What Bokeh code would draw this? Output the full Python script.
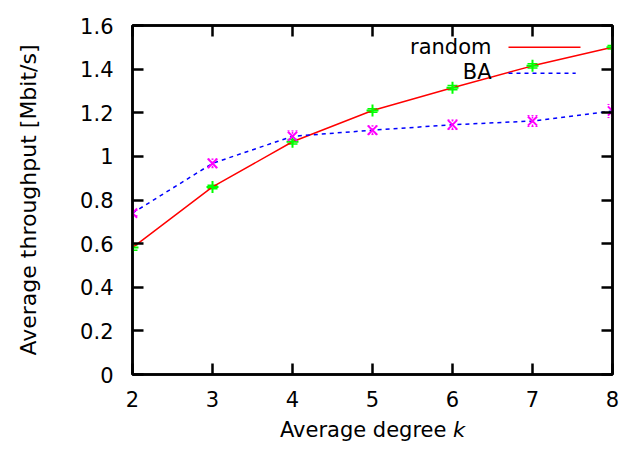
from bokeh.plotting import figure
from bokeh.models import Range1d, FixedTicker, LinearAxis, Label, Whisker, ColumnDataSource
from bokeh.embed import file_html
from bokeh.resources import INLINE

degree = [2, 3, 4, 5, 6, 7, 8]
random_tp = [0.582, 0.860, 1.067, 1.210, 1.315, 1.415, 1.500]
random_err = [0.012, 0.008, 0.010, 0.008, 0.010, 0.010, 0.008]
ba_tp = [0.740, 0.968, 1.092, 1.120, 1.145, 1.162, 1.208]
ba_err = [0.012, 0.020, 0.025, 0.020, 0.022, 0.025, 0.030]
y_ticks = [0, 0.2, 0.4, 0.6, 0.8, 1.0, 1.2, 1.4, 1.6]
y_tick_labels = ["0", "0.2", "0.4", "0.6", "0.8", "1", "1.2", "1.4", "1.6"]
x_ticks = [2, 3, 4, 5, 6, 7, 8]

FONT = "DejaVu Sans"
FS = "21px"

W, H = 624, 444
L, R, T, B = 132, 12, 25, 69
p = figure(width=W, height=H, output_backend="svg", toolbar_location=None,
           x_range=Range1d(2, 8), y_range=Range1d(0, 1.6),
           min_border_left=L, min_border_right=R, min_border_top=T, min_border_bottom=B)
FH = H - T - B
p.grid.visible = False
p.outline_line_color = "black"
p.outline_line_width = 2.5
p.background_fill_color = "white"
p.border_fill_color = "white"

for ax in (p.xaxis[0], p.yaxis[0]):
    ax.major_tick_in = 11
    ax.major_tick_out = 0
    ax.minor_tick_line_color = None
    ax.axis_line_width = 2.5
    ax.major_tick_line_width = 2.5
    ax.major_label_text_font = FONT
    ax.major_label_text_font_size = FS
    ax.major_label_text_color = "black"
    ax.axis_label_text_font = FONT
    ax.axis_label_text_font_size = FS
    ax.axis_label_text_font_style = "normal"
    ax.axis_label_text_color = "black"

p.yaxis.axis_label_text_font_size = "22px"
p.xaxis.ticker = FixedTicker(ticks=x_ticks)
p.yaxis.ticker = FixedTicker(ticks=y_ticks)
p.yaxis.major_label_overrides = {t: l for t, l in zip(y_ticks, y_tick_labels)}
p.xaxis.axis_label = "Average degree 𝘬"
p.yaxis.axis_label = "Average throughput [Mbit/s]"
p.xaxis.major_label_standoff = 16
p.yaxis.major_label_standoff = 19
p.xaxis.axis_label_standoff = 8
p.yaxis.axis_label_standoff = 36

for loc, tk in (("right", y_ticks), ("above", x_ticks)):
    ax = LinearAxis(ticker=FixedTicker(ticks=tk), major_label_text_font_size="0px",
                    major_tick_in=11, major_tick_out=0, minor_tick_line_color=None,
                    axis_line_width=2.5, major_tick_line_width=2.5, major_label_standoff=0)
    ax.major_label_text_color = None
    p.add_layout(ax, loc)

src_r = ColumnDataSource(dict(x=degree, y=random_tp,
                              lo=[v - e for v, e in zip(random_tp, random_err)],
                              hi=[v + e for v, e in zip(random_tp, random_err)]))
src_b = ColumnDataSource(dict(x=degree, y=ba_tp,
                              lo=[v - e for v, e in zip(ba_tp, ba_err)],
                              hi=[v + e for v, e in zip(ba_tp, ba_err)]))

p.line("x", "y", source=src_r, line_color="#ff0000", line_width=1.5)
p.line("x", "y", source=src_b, line_color="#0000ff", line_width=1.5, line_dash="4 4")

wr = Whisker(source=src_r, base="x", lower="lo", upper="hi", line_color="#00ff00", line_width=1.5)
wr.upper_head.size = 10
wr.lower_head.size = 10
wr.upper_head.line_color = "#00ff00"
wr.lower_head.line_color = "#00ff00"
wr.upper_head.line_width = 1.5
wr.lower_head.line_width = 1.5
p.add_layout(wr)
wb = Whisker(source=src_b, base="x", lower="lo", upper="hi", line_color="#ff00ff", line_width=1.5,
             line_dash="2 2")
wb.upper_head.size = 10
wb.lower_head.size = 10
wb.upper_head.line_color = "#ff00ff"
wb.lower_head.line_color = "#ff00ff"
wb.upper_head.line_dash = "2 2"
wb.lower_head.line_dash = "2 2"
p.add_layout(wb)

p.scatter("x", "y", source=src_r, marker="cross", size=12, line_color="#00ff00", line_width=2)
p.scatter("x", "y", source=src_b, marker="x", size=13, line_color="#ff00ff", line_width=2)

# legend (text on the left, sample on the right, as in the reference)
p.add_layout(Label(x=491 - L, y=FH - (47 - T), x_units="screen", y_units="screen",
                   text="random", text_align="right", text_baseline="middle",
                   text_font=FONT, text_font_size=FS, text_color="black"))
p.add_layout(Label(x=491 - L, y=FH - (72 - T), x_units="screen", y_units="screen",
                   text="BA", text_align="right", text_baseline="middle",
                   text_font=FONT, text_font_size=FS, text_color="black"))
p.segment(x0=[6.7], y0=[1.50], x1=[7.6], y1=[1.50], line_color="#ff0000", line_width=1.5)
p.segment(x0=[6.7], y0=[1.381], x1=[7.54], y1=[1.381], line_color="#0000ff", line_width=1.5, line_dash="4 4")

open("out.html", "w").write(file_html(p, INLINE))
